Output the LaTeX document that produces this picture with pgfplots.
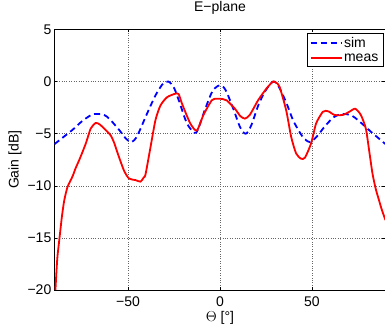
\documentclass[border=0pt]{standalone}
\usepackage{fontspec}
\setmainfont{Liberation Sans}
\usepackage{pgfplots}
\pgfplotsset{compat=1.18}
\begin{document}
\begin{tikzpicture}
\begin{axis}[
  at={(0pt,0pt)}, anchor=south west,
  scale only axis, width=331pt, height=260.5pt,
  xmin=-90, xmax=90, ymin=-20, ymax=5,
  xtick={-50,0,50}, xticklabels={−50,0,50},
  ytick={-20,-15,-10,-5,0,5}, yticklabels={−20,−15,−10,−5,0,5},
  tick align=inside, major tick length=3pt,
  xtick pos=both, ytick pos=both,
  tick style={black, line width=0.5pt},
  axis line style={black, line width=0.8pt},
  grid=major, major grid style={dotted, black!60, line width=0.6pt},
  font=\fontsize{14}{16}\selectfont,
  xticklabel style={anchor=base, yshift=-16.7pt},
  yticklabel style={anchor=east, inner sep=0pt, xshift=-3pt},
  title={E−plane},
  title style={at={(axis description cs:0.5,1)}, anchor=base, yshift=12.2pt, inner sep=0pt},
  xlabel={$\Theta$ [°]},
  xlabel style={at={(axis description cs:0.5,0)}, anchor=base, yshift=-31pt, inner sep=0pt},
  ylabel={Gain [dB]},
  ylabel style={at={(axis description cs:-0.119,0.5)}, anchor=center, rotate=0, inner sep=0pt},
  legend cell align=left,
  legend style={at={(axis description cs:1,1)}, anchor=north east, xshift=-2.5pt, yshift=-4pt,
    draw=black, fill=white, inner xsep=3pt, inner ysep=2pt, row sep=2pt,
    nodes={fill=none, draw=none, inner sep=1.5pt},
    font=\fontsize{14}{16}\selectfont},
  legend image code/.code={\begin{scope}\draw[#1] (0pt,0pt) -- (31pt,0pt);\end{scope}},
]
\addplot[color=blue, line width=1.8pt, dash pattern=on 6pt off 4pt, smooth, tension=0.5] coordinates {
(-90,-6.0) (-85,-5.3) (-80,-4.6) (-75,-3.8) (-70,-3.2) (-67,-3.1) (-63,-3.2) (-60,-3.6)
(-55,-4.6) (-51,-5.5) (-48,-5.8) (-45,-5.2) (-40,-3.2) (-35,-1.3) (-31,-0.2) (-28,0.0)
(-25,-0.6) (-22,-2.0) (-18,-4.0) (-14,-4.9) (-12,-4.6) (-8,-2.6) (-4,-0.9) (0,-0.35)
(3,-0.8) (7,-2.5) (11,-4.4) (14,-5.0) (17,-4.2) (21,-2.2) (25,-0.8) (29,0.0) (32,-0.5)
(36,-2.0) (40,-3.8) (45,-5.3) (49,-5.8) (53,-5.2) (57,-4.3) (62,-3.4) (67,-3.1) (72,-3.3)
(77,-4.0) (82,-4.8) (86,-5.4) (90,-6.0)
};
\addlegendentry{sim}
\addplot[color=red, line width=1.8pt, smooth, tension=0.4] coordinates {
(-89.5,-20) (-88.5,-17) (-87.4,-15.2) (-86,-13) (-84.7,-11.4) (-82.9,-10.1) (-80.2,-9.1)
(-78.5,-8.3) (-76.6,-7.55) (-73,-5.95) (-70.3,-4.5) (-67.6,-3.97) (-65.5,-4.1) (-63,-4.5)
(-59.5,-5.15) (-57.5,-5.9) (-55.9,-6.75) (-52.3,-8.5) (-49.5,-9.3) (-46,-9.45) (-43.2,-9.6)
(-41.5,-9.2) (-40.5,-8.9) (-37.8,-6.3) (-35.1,-3.7) (-32.4,-2.3) (-28.8,-1.5) (-24.3,-1.16)
(-22.5,-1.2) (-20.7,-2.1) (-16.2,-4.0) (-12.6,-4.7) (-9.0,-3.2) (-4.5,-1.8) (-2,-1.64)
(0,-1.64) (3.6,-1.8) (8.1,-2.6) (11,-3.3) (13.5,-3.55) (16.2,-3.2) (20.7,-1.8) (25.2,-0.68)
(28.8,0) (30.5,-0.1) (32.4,-0.5) (36,-2.76) (38.7,-5.3) (41.4,-6.9) (44.1,-7.4) (46.2,-7.3)
(49.5,-5.95) (52.3,-4.0) (55.9,-2.9) (57.5,-2.8) (59.5,-2.9) (62.2,-3.2) (66.7,-3.2)
(70.3,-2.9) (73.5,-2.6) (76.6,-3.2) (79.3,-4.5) (81.1,-6.6) (82.9,-8.8) (84.7,-10.3)
(86.5,-11.4) (88,-12.3) (90,-13.3)
};
\addlegendentry{meas}
\end{axis}
\pgfresetboundingbox
\path[use as bounding box] (-54.5pt,-34pt) rectangle (330.5pt,290pt);
\end{tikzpicture}
\end{document}
